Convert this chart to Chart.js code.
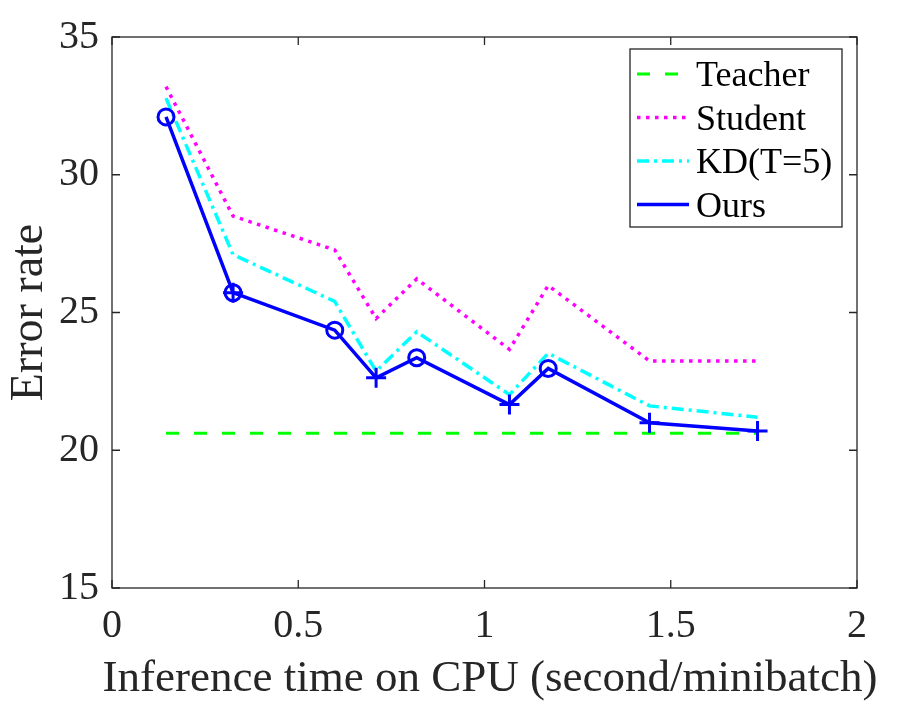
<!DOCTYPE html>
<html>
<head>
<meta charset="utf-8">
<script src="https://cdn.jsdelivr.net/npm/chart.js@4"></script>
<style>
  html, body { margin: 0; padding: 0; background: #fff; }
  #wrap { width: 903px; height: 710px; }
</style>
</head>
<body>
<div id="wrap"><canvas id="chart" width="903" height="710"></canvas></div>
<script>
// ======================
// DATA
// ======================
const inferenceTime = [0.145, 0.325, 0.598, 0.709, 0.818, 1.067, 1.171, 1.443, 1.733];
const teacherX = [0.145, 1.733];
const teacherErr = [20.62, 20.62];
const studentErr = [33.2, 28.5, 27.27, 24.78, 26.22, 23.66, 25.98, 23.24, 23.24];
const kdErr = [32.78, 27.1, 25.4, 22.87, 24.3, 22.02, 23.52, 21.61, 21.2];
const oursErr = [32.1, 25.72, 24.36, 22.63, 23.36, 21.66, 22.97, 21.0, 20.7];
const oursMarker = ["o", "o+", "o", "+", "o", "+", "o", "+", "+"];

const seriesNames = ["Teacher", "Student", "KD(T=5)", "Ours"];
const xTickValues = [0, 0.5, 1, 1.5, 2];
const xTickLabels = ["0", "0.5", "1", "1.5", "2"];
const yTickValues = [15, 20, 25, 30, 35];
const yTickLabels = ["15", "20", "25", "30", "35"];
const xTitle = "Inference time on CPU (second/minibatch)";
const yTitle = "Error rate";

const FONT = '"Liberation Serif", "Times New Roman", serif';
const AXIS = "#262626";

const pts = (xs, ys) => xs.map((x, i) => ({ x: x, y: ys[i] }));
const oursPts = pts(inferenceTime, oursErr);

// ======================
// BOX, INWARD TICKS, LEGEND (MATLAB look)
// ======================
const matlabBox = {
  id: "matlabBox",
  beforeDraw(chart) {
    const c = chart.ctx;
    c.save();
    c.fillStyle = "#fff";
    c.fillRect(0, 0, chart.width, chart.height);
    c.restore();
  },
  afterDraw(chart) {
    const c = chart.ctx;
    const a = chart.chartArea;
    const xs = chart.scales.x, ys = chart.scales.y;
    c.save();
    c.strokeStyle = AXIS;
    c.lineWidth = 1.3;
    c.strokeRect(a.left, a.top, a.right - a.left, a.bottom - a.top);
    const tl = 8;
    c.beginPath();
    xTickValues.forEach(v => {
      const px = xs.getPixelForValue(v);
      c.moveTo(px, a.bottom); c.lineTo(px, a.bottom - tl);
      c.moveTo(px, a.top); c.lineTo(px, a.top + tl);
    });
    yTickValues.forEach(v => {
      const py = ys.getPixelForValue(v);
      c.moveTo(a.left, py); c.lineTo(a.left + tl, py);
      c.moveTo(a.right, py); c.lineTo(a.right - tl, py);
    });
    c.stroke();

    // x title (wider than the plot box, so no maxWidth squeeze)
    c.fillStyle = AXIS;
    c.font = "45px " + FONT;
    c.textAlign = "center";
    c.textBaseline = "alphabetic";
    c.fillText(xTitle, 490, 691);

    // legend
    const bx = 630, by = 49, bw = 212, bh = 178;
    c.fillStyle = "#fff";
    c.fillRect(bx, by, bw, bh);
    c.strokeRect(bx, by, bw, bh);
    const rows = [74, 117.5, 161, 204.5];
    const styles = chart.data.datasets.slice(0, 4);
    c.font = "36px " + FONT;
    c.textAlign = "left";
    styles.forEach((ds, i) => {
      const y = rows[i];
      c.save();
      c.strokeStyle = ds.borderColor;
      c.lineWidth = ds.borderWidth;
      c.setLineDash(ds.borderDash || []);
      c.beginPath();
      c.moveTo(637, y); c.lineTo(689, y);
      c.stroke();
      c.restore();
      c.fillStyle = "#000";
      c.fillText(seriesNames[i], 696, y + 12);
    });
    c.restore();
  }
};

new Chart(document.getElementById("chart"), {
  type: "line",
  data: {
    datasets: [
      {
        label: seriesNames[0], data: pts(teacherX, teacherErr),
        borderColor: "#00ff00", borderWidth: 3, borderDash: [13, 15],
        pointRadius: 0, order: 5
      },
      {
        label: seriesNames[1], data: pts(inferenceTime, studentErr),
        borderColor: "#ff00ff", borderWidth: 3.5, borderDash: [3.5, 5.5],
        pointRadius: 0, order: 4
      },
      {
        label: seriesNames[2], data: pts(inferenceTime, kdErr),
        borderColor: "#00ffff", borderWidth: 3.5, borderDash: [12, 5, 3, 5],
        pointRadius: 0, order: 3
      },
      {
        label: seriesNames[3], data: oursPts,
        borderColor: "#0000ff", borderWidth: 3.5,
        pointRadius: 0, order: 2
      },
      {
        label: "o", data: oursPts.filter((p, i) => oursMarker[i].includes("o")),
        showLine: false, pointStyle: "circle", pointRadius: 8, pointBorderWidth: 3,
        pointBorderColor: "#0000ff", pointBackgroundColor: "rgba(0,0,0,0)", order: 1
      },
      {
        label: "+", data: oursPts.filter((p, i) => oursMarker[i].includes("+")),
        showLine: false, pointStyle: "cross", pointRadius: 10, pointBorderWidth: 3,
        pointBorderColor: "#0000ff", order: 0
      }
    ]
  },
  options: {
    responsive: false,
    animation: false,
    devicePixelRatio: 1,
    layout: { padding: { top: 32, right: 46, left: 0, bottom: 0 } },
    plugins: { legend: { display: false }, tooltip: { enabled: false } },
    elements: { line: { tension: 0 } },
    scales: {
      x: {
        type: "linear", min: 0, max: 2,
        afterBuildTicks: s => { s.ticks = xTickValues.map(v => ({ value: v })); },
        afterFit: s => { s.height = 122; },
        grid: { display: false, drawTicks: false },
        border: { display: false },
        ticks: {
          padding: 14, color: AXIS, font: { family: FONT, size: 40 },
          maxRotation: 0, autoSkip: false,
          callback: v => xTickLabels[xTickValues.indexOf(v)]
        },
        title: { display: false }
      },
      y: {
        type: "linear", min: 15, max: 35,
        afterBuildTicks: s => { s.ticks = yTickValues.map(v => ({ value: v })); },
        afterFit: s => { s.width = 112; },
        grid: { display: false, drawTicks: false },
        border: { display: false },
        ticks: {
          padding: 13, color: AXIS, font: { family: FONT, size: 40 },
          autoSkip: false,
          callback: v => yTickLabels[yTickValues.indexOf(v)]
        },
        title: {
          display: true, text: yTitle,
          color: AXIS, font: { family: FONT, size: 46 }, padding: { top: 2, bottom: 0 }
        }
      }
    }
  },
  plugins: [matlabBox]
});
</script>
</body>
</html>
